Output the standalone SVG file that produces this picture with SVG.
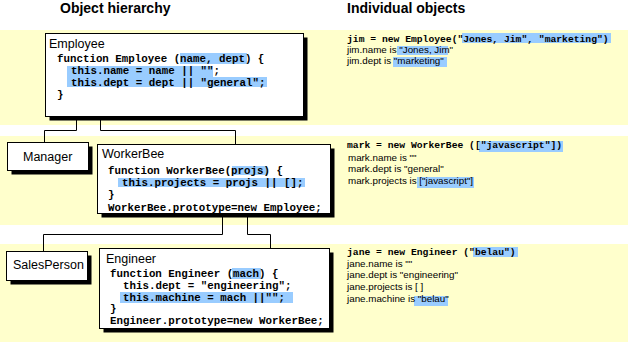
<svg xmlns="http://www.w3.org/2000/svg" width="628" height="342" viewBox="0 0 628 342">
<style>
.band{fill:#FFFFCC}
.hl{fill:#99CCFF}
.box{fill:#fff;stroke:#000;stroke-width:1}
.sh{fill:#000}
.hdr{font-family:"Liberation Sans",Arial,sans-serif;font-weight:bold;font-size:14px;fill:#000}
.ttl{font-family:"Liberation Sans",Arial,sans-serif;font-size:12.5px;fill:#000}
.code{font-family:"Liberation Mono","Courier New",monospace;font-weight:bold;font-size:10.8px;fill:#000;white-space:pre}
.rcode{font-family:"Liberation Mono","Courier New",monospace;font-weight:bold;font-size:9.7px;fill:#000;white-space:pre}
.rtxt{font-family:"Liberation Sans",Arial,sans-serif;font-size:9.8px;fill:#000;white-space:pre}
.conn{fill:none;stroke:#000;stroke-width:1}
</style>
<rect width="628" height="342" fill="#fff"/>
<rect class="band" x="0" y="30" width="628" height="95"/>
<rect class="band" x="0" y="136" width="628" height="89"/>
<rect class="band" x="0" y="244" width="628" height="98"/>
<text class="hdr" x="60" y="13">Object hierarchy</text>
<text class="hdr" x="347" y="13">Individual objects</text>
<g id="connectors">
<path class="conn" d="M76.5 120V130.5H44.5V142.5"/>
<path class="conn" d="M100.5 120V130.5H235.5V144.5"/>
<path class="conn" d="M222.5 217V234.5H43.5V251.5"/>
<path class="conn" d="M247.5 217V234.5H270.5V248.5"/>
</g>
<g id="employee">
<rect class="sh" x="49.5" y="37.5" width="258" height="83"/>
<rect class="box" x="45.5" y="33.5" width="258" height="83"/>
<rect class="hl" x="180" y="53" width="67" height="11"/>
<rect class="hl" x="67" y="66" width="146" height="11"/>
<rect class="hl" x="67" y="77" width="200" height="10"/>
<text class="ttl" x="49" y="48">Employee</text>
<text class="code" x="57" y="62">function Employee (name, dept) {</text>
<text class="code" x="71" y="74">this.name = name || "";</text>
<text class="code" x="71" y="86">this.dept = dept || "general";</text>
<text class="code" x="57" y="98">}</text>
</g>
<g id="manager">
<rect class="sh" x="11.5" y="146.5" width="81" height="28"/>
<rect class="box" x="7.5" y="142.5" width="81" height="28"/>
<text class="ttl" x="23" y="161">Manager</text>
</g>
<g id="workerbee">
<rect class="sh" x="101.5" y="148.5" width="233" height="69"/>
<rect class="box" x="97.5" y="144.5" width="233" height="69"/>
<rect class="hl" x="232" y="166" width="35" height="9"/>
<rect class="hl" x="118" y="178" width="187" height="9"/>
<text class="ttl" x="102" y="158">WorkerBee</text>
<text class="code" x="108" y="174">function WorkerBee(projs) {</text>
<text class="code" x="122" y="186">this.projects = projs || [];</text>
<text class="code" x="108" y="198">}</text>
<text class="code" x="108" y="211">WorkerBee.prototype=new Employee;</text>
</g>
<g id="salesperson">
<rect class="sh" x="10.5" y="255.5" width="81" height="29"/>
<rect class="box" x="6.5" y="251.5" width="81" height="29"/>
<text class="ttl" x="13" y="269">SalesPerson</text>
</g>
<g id="engineer">
<rect class="sh" x="103.5" y="252.5" width="230" height="80"/>
<rect class="box" x="99.5" y="248.5" width="230" height="80"/>
<rect class="hl" x="232" y="268" width="29" height="11"/>
<rect class="hl" x="120" y="292" width="173" height="11"/>
<text class="ttl" x="106" y="263">Engineer</text>
<text class="code" x="110" y="277">function Engineer (mach) {</text>
<text class="code" x="123" y="289">this.dept = "engineering";</text>
<text class="code" x="123" y="301">this.machine = mach ||"";</text>
<text class="code" x="110" y="312">}</text>
<text class="code" x="110" y="324">Engineer.prototype=new WorkerBee;</text>
</g>
<g id="jim">
<rect class="hl" x="462" y="33" width="149" height="10"/>
<rect class="hl" x="397" y="46" width="51" height="9"/>
<rect class="hl" x="393" y="57" width="54" height="10"/>
<text class="rcode" x="347" y="42">jim = new Employee("Jones, Jim", "marketing")</text>
<text class="rtxt" x="347" y="53">jim.name is "Jones, Jim"</text>
<text class="rtxt" x="347" y="64">jim.dept is "marketing"</text>
</g>
<g id="mark">
<rect class="hl" x="479" y="141" width="84" height="11"/>
<rect class="hl" x="417" y="177" width="57" height="11"/>
<text class="rcode" x="347" y="148">mark = new WorkerBee (["javascript"])</text>
<text class="rtxt" x="348" y="161">mark.name is ""</text>
<text class="rtxt" x="348" y="172">mark.dept is "general"</text>
<text class="rtxt" x="348" y="184">mark.projects is ["javascript"]</text>
</g>
<g id="jane">
<rect class="hl" x="473" y="247" width="45" height="10"/>
<rect class="hl" x="414" y="296" width="34" height="10"/>
<text class="rcode" x="347" y="255">jane = new Engineer ("belau")</text>
<text class="rtxt" x="347" y="267">jane.name is ""</text>
<text class="rtxt" x="347" y="278">jane.dept is "engineering"</text>
<text class="rtxt" x="347" y="290">jane.projects is [ ]</text>
<text class="rtxt" x="347" y="302">jane.machine is "belau"</text>
</g>
</svg>
